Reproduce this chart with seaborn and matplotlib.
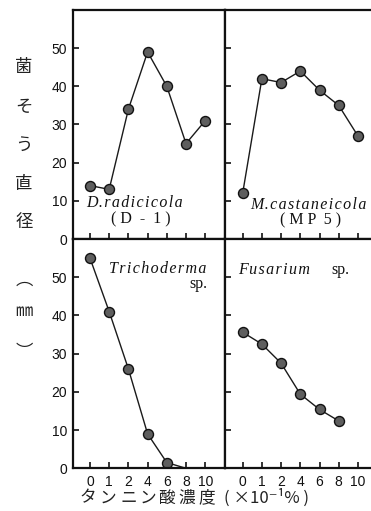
import numpy as np
import pandas as pd
import matplotlib
matplotlib.use("Agg")
import matplotlib.pyplot as plt
import seaborn as sns

# ---- data ----
concentrations = ["0", "1", "2", "4", "6", "8", "10"]
d_radicicola = [14, 13, 34, 49, 40, 25, 31]
m_castaneicola = [12, 42, 41, 44, 39, 35, 27]
trichoderma = [55, 41, 26, 9, 1.5, 0, np.nan]
fusarium = [35.6, 32.5, 27.5, 19.4, 15.4, 12.4, np.nan]
y_ticks = [0, 10, 20, 30, 40, 50]

sns.set_style("ticks")
plt.rcParams["font.family"] = ["Liberation Sans", "DejaVu Sans"]

W, H = 371, 511
fig = plt.figure(figsize=(W / 100, H / 100), dpi=100)

def fx(px):
    return px / W

def fy(py):
    return 1 - py / H

def make_ax(x0, x1, y0, y1):
    return fig.add_axes([fx(x0), fy(y1), fx(x1) - fx(x0), fy(y0) - fy(y1)])

ax_tl = make_ax(72.7, 225, 10, 239)
ax_tr = make_ax(225, 371, 10, 239)
ax_bl = make_ax(72.7, 225, 239, 468.3)
ax_br = make_ax(225, 371, 239, 468.3)

pos = np.arange(len(concentrations))

def draw(ax, values, markevery=None, left=True, right_panel=False, bottom_labels=False):
    df = pd.DataFrame({"pos": pos, "val": values}).dropna()
    kw = {}
    if markevery is not None:
        kw["markevery"] = markevery
    sns.lineplot(data=df, x="pos", y="val", ax=ax, color="#1a1a1a", linewidth=1.0,
                 marker="o", markersize=7.2, markerfacecolor="#5e5e5e",
                 markeredgecolor="#111111", markeredgewidth=1.0, **kw)
    ax.set_ylim(0, 60)
    if right_panel:
        ax.set_xlim(-0.92, 6.68)
    else:
        ax.set_xlim(-0.9, 7.03)
    ax.set_xticks(pos)
    ax.set_yticks(y_ticks)
    ax.set_xlabel("")
    ax.set_ylabel("")
    for s in ["left", "top", "bottom", "right"]:
        ax.spines[s].set_visible(True)
        ax.spines[s].set_linewidth(1.6)
        ax.spines[s].set_color("#111111")
    if right_panel:
        ax.spines["right"].set_visible(False)
    ax.tick_params(axis="both", direction="in", length=4, width=1.2, color="#111111",
                   labelsize=10, labelcolor="#111111")
    ax.tick_params(axis="y", pad=4)
    ax.tick_params(axis="x", pad=5)
    if not left:
        ax.set_yticklabels([])
    if bottom_labels:
        ax.set_xticklabels(concentrations)
    else:
        ax.set_xticklabels([])

draw(ax_tl, d_radicicola)
draw(ax_tr, m_castaneicola, left=False, right_panel=True)
draw(ax_bl, trichoderma, markevery=[0, 1, 2, 3, 4], bottom_labels=True)
draw(ax_br, fusarium, left=False, right_panel=True, bottom_labels=True)

serif_fam = ["Liberation Serif", "DejaVu Serif"]
serif_it = dict(family=serif_fam, style="italic", fontsize=11.5, color="#111111")
serif = dict(family=serif_fam, fontsize=11.5, color="#111111")

def spaced(s):
    return "\u200a".join(s)

fig.text(fx(134), fy(203), spaced("D.radicicola"), ha="center", va="center", **serif_it)
fig.text(fx(141), fy(219), "( D  -  1 )", ha="center", va="center", **serif)
fig.text(fx(308), fy(205), spaced("M.castaneicola"), ha="center", va="center", **serif_it)
fig.text(fx(311), fy(220), "( M P  5 )", ha="center", va="center", **serif)
fig.text(fx(158), fy(269), spaced("Trichoderma"), ha="center", va="center", **serif_it)
fig.text(fx(207), fy(284), "sp.", ha="right", va="center", **serif)
fig.text(fx(238), fy(270), spaced("Fusarium"), ha="left", va="center", **serif_it)
fig.text(fx(340), fy(270), "sp.", ha="center", va="center", **serif)

cjk = ["Noto Sans CJK JP", "DejaVu Sans"]
ylabel_chars = ["菌", "そ", "う", "直", "径", "︵", "㎜", "︶"]
ylabel_y = [67, 107, 145, 184, 222, 280, 311, 352]
for ch, yy in zip(ylabel_chars, ylabel_y):
    fig.text(fx(24), fy(yy), ch, ha="center", va="center", family=cjk, fontsize=12.5, color="#222222")

xlabel_chars = ["タ", "ン", "ニ", "ン", "酸", "濃", "度"]
xlabel_x = [87.5, 108, 129, 148, 166.5, 186.5, 206.5]
for ch, xx in zip(xlabel_chars, xlabel_x):
    fig.text(fx(xx), fy(498), ch, ha="center", va="center", family=cjk, fontsize=12, color="#222222")
fig.text(fx(267), fy(498), "( ×10⁻¹% )", ha="center", va="center", family=cjk, fontsize=12, color="#222222")

fig.savefig("out.png", dpi=100)
